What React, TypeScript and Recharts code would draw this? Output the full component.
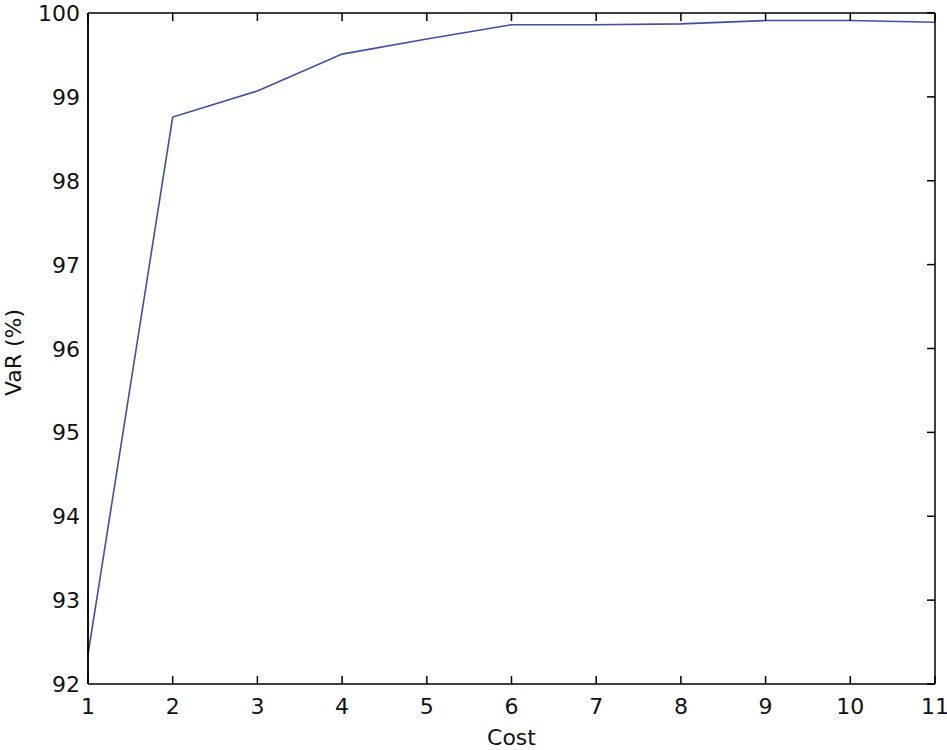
import { Line, LineChart, XAxis, YAxis } from 'recharts';

const cost = [1, 2, 3, 4, 5, 6, 7, 8, 9, 10, 11];
const varPct = [92.35, 98.76, 99.07, 99.51, 99.69, 99.86, 99.86, 99.87, 99.91, 99.91, 99.89];
const xTicks = [1, 2, 3, 4, 5, 6, 7, 8, 9, 10, 11];
const yTicks = [92, 93, 94, 95, 96, 97, 98, 99, 100];

const data = cost.map((c, i) => ({ cost: c, value: varPct[i] }));

const W = 947;
const H = 750;
const M = { top: 13, right: 12, bottom: 0, left: 0 };
const Y_W = 88;
const X_H = 66;
// plot box edges, from the layout above
const PL = M.left + Y_W;
const PR = W - M.right;
const PT = M.top;
const PB = H - M.bottom - X_H;

const font = { fontFamily: 'DejaVu Sans, sans-serif', fontSize: 22, fill: '#111' };
const edge = { stroke: '#000', strokeWidth: 1.5 };
const TICK = 8;
const XM = 14; // gap between axis line and x tick labels
const YM = 8; // gap between axis line and y tick labels
const blank = () => '';

const BottomLabel = ({ x, y, payload }: any) => (
  <text x={x} y={y} dy={16} textAnchor="middle" style={font}>
    {payload.value}
  </text>
);

const LeftLabel = ({ x, y, payload }: any) => (
  <text x={x} y={y} dy={8} textAnchor="end" style={font}>
    {payload.value}
  </text>
);

// bottom and right inward tick marks (recharts would not draw these), same linear mapping as the axes
const xPx = (v: number) => PL + ((v - 1) / (11 - 1)) * (PR - PL);
const yPx = (v: number) => PB - ((v - 92) / (100 - 92)) * (PB - PT);

function EdgeTicks() {
  return (
    <svg width={W} height={H} style={{ position: 'absolute', left: 0, top: 0, pointerEvents: 'none' }}>
      {xTicks.map((t) => (
        <line key={`b${t}`} x1={xPx(t)} x2={xPx(t)} y1={PB} y2={PB - TICK} stroke="#000" strokeWidth={1.5} />
      ))}
      {yTicks.map((t) => (
        <line key={`r${t}`} x1={PR} x2={PR - TICK} y1={yPx(t)} y2={yPx(t)} stroke="#000" strokeWidth={1.5} />
      ))}
      <line x1={PR} x2={PR} y1={PT} y2={PB} stroke="#000" strokeWidth={1.5} />
    </svg>
  );
}

export default function App() {
  return (
    <div style={{ position: 'absolute', left: 0, top: 0, width: W, height: H, background: '#fff' }}>
      <LineChart width={W} height={H} data={data} margin={M}>
        <XAxis
          xAxisId="bottom"
          dataKey="cost"
          type="number"
          domain={[1, 11]}
          ticks={xTicks}
          interval={0}
          height={X_H}
          tickSize={0}
          tickMargin={XM}
          axisLine={edge}
          tickLine={false}
          tick={<BottomLabel />}
          label={{ value: 'Cost', position: 'insideBottom', offset: 5, style: font }}
        />
        <YAxis
          yAxisId="left"
          type="number"
          domain={[92, 100]}
          ticks={yTicks}
          interval={0}
          width={Y_W}
          tickSize={0}
          tickMargin={YM}
          axisLine={edge}
          tickLine={false}
          tick={<LeftLabel />}
          label={{
            content: ({ viewBox }: any) => {
              const lx = viewBox.x + 13;
              const ly = viewBox.y + viewBox.height / 2 + 4;
              return (
                <text
                  x={lx}
                  y={ly}
                  transform={`rotate(-90, ${lx}, ${ly})`}
                  textAnchor="middle"
                  dominantBaseline="central"
                  style={font}
                >
                  VaR (%)
                </text>
              );
            },
          }}
        />
        {/* inward ticks, top and left */}
        <XAxis xAxisId="tIn" orientation="top" mirror dataKey="cost" type="number" domain={[1, 11]} ticks={xTicks}
          interval={0} tickSize={TICK} axisLine={edge} tickLine={edge} tickFormatter={blank} />
        <YAxis yAxisId="lIn" mirror type="number" domain={[92, 100]} ticks={yTicks} interval={0}
          tickSize={TICK} axisLine={edge} tickLine={edge} tickFormatter={blank} />
        <Line
          xAxisId="bottom"
          yAxisId="left"
          type="linear"
          dataKey="value"
          stroke="#3f4fa6"
          strokeWidth={1.6}
          dot={false}
          isAnimationActive={false}
        />
      </LineChart>
      <EdgeTicks />
    </div>
  );
}
